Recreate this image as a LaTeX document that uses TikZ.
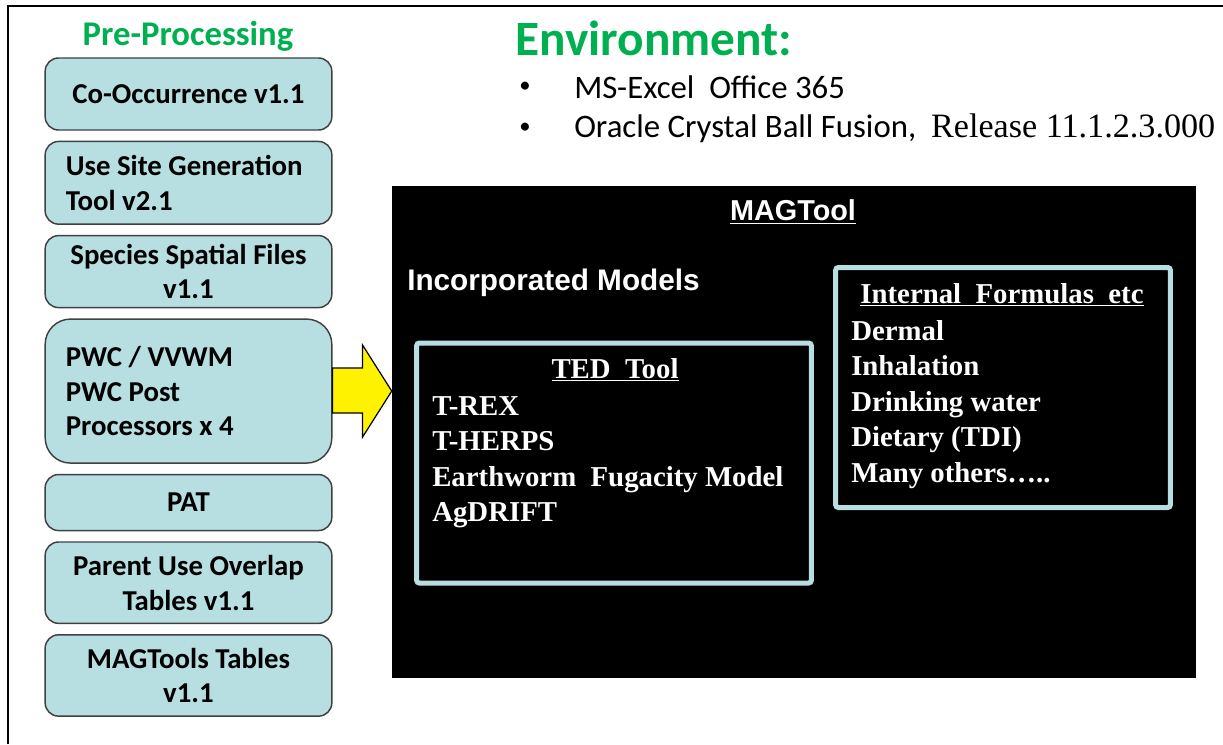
\documentclass[tikz,border=0pt]{standalone}
\usepackage{fontspec}
\setmainfont{Liberation Serif}
\newfontfamily\calfont{Carlito}
\newfontfamily\arialfont{Liberation Sans}
\usetikzlibrary{positioning, calc}
\definecolor{ppblue}{RGB}{183,222,225}
\definecolor{ppgreen}{RGB}{0,176,80}

\begin{document}
\begin{tikzpicture}[
  x=0.75pt, y=-0.75pt,
  node distance=7.5pt,
  ppbox/.style={draw=black!75, line width=1.1pt, fill=ppblue, rounded corners=10pt, minimum width=215pt, minimum height=54pt, align=center, inner sep=2pt, font=\calfont\bfseries\fontsize{21.6}{26}\selectfont},
  ppleft/.style={ppbox, align=flush left, text width=184pt},
  modbox/.style={draw=ppblue, line width=3.75pt, rounded corners=2pt, minimum width=296pt, minimum height=180pt},
  modtext/.style={text=white, inner sep=0pt, align=left, font=\bfseries\fontsize{21.6}{26.6}\selectfont},
  sanstext/.style={text=white, inner sep=0pt, font=\arialfont\bfseries\fontsize{21.6}{26}\selectfont},
  envtext/.style={inner sep=0pt, anchor=west, font=\calfont\fontsize{24.6}{28}\selectfont},
  yarrow/.style={draw=black, line width=0.9pt, fill=yellow, line join=miter}
]
\useasboundingbox (0,0) rectangle (1223,744);
\draw[line width=1.5pt] (8,744) -- (8,6) -- (1223,6);

% pre-processing column
\node[text=ppgreen, inner sep=0pt, font=\calfont\bfseries\fontsize{26}{30}\selectfont] (pretitle) at (188,36) {Pre-Processing};
\node[ppbox] (cooc) at (188.5,94) {Co-Occurrence v1.1};
\node[ppleft, minimum height=62pt, below=of cooc] (usesite) {Use Site Generation\\Tool v2.1};
\node[ppbox, below=of usesite] (species) {Species Spatial Files\\v1.1};
\node[ppleft, minimum height=108pt, rounded corners=19pt, below=of species] (pwc) {PWC / VVWM\\PWC Post\\Processors x 4};
\node[ppbox, minimum height=42pt, below=of pwc] (pat) {PAT};
\node[ppbox, minimum height=61pt, below=of pat] (parent) {Parent Use Overlap\\Tables v1.1};
\node[ppbox, minimum height=61pt, below=of parent] (magtab) {MAGTools Tables\\v1.1};

% environment
\node[text=ppgreen, inner sep=0pt, anchor=west, font=\calfont\bfseries\fontsize{37}{40}\selectfont] (envtitle) at (515,38) {Environment:};
\node[envtext, font=\calfont\fontsize{17}{20}\selectfont] (bulone) at (519,87) {•};
\node[envtext] (excel) at (574,87) {MS-Excel\ \ Office 365};
\node[envtext, font=\calfont\fontsize{17}{20}\selectfont] (bultwo) at (519,128) {•};
\node[envtext] (oracle) at (574,128) {Oracle Crystal Ball Fusion,\ \ {\rmfamily\fontsize{25.6}{28}\selectfont Release 11.1.2.3.000}};

% MAGTool
\node[fill=black, inner sep=0pt, minimum width=603pt, minimum height=369pt] (magtool) at (794,432) {};
\node[sanstext] (magtitle) at (793,212) {\underline{MAGTool}};
\node[sanstext, anchor=west, font=\arialfont\bfseries\fontsize{22.3}{26}\selectfont] (incmod) at (407,283) {Incorporated Models};

\node[modbox] (ted) at (614,463) {};
\node[modtext] (tedtitle) at (615,370) {\underline{TED\ \ Tool}};
\node[modtext, anchor=north west] (tedlist) at (432,396) {T-REX\\T-HERPS\\Earthworm\ \ Fugacity Model\\AgDRIFT};

\node[modbox, minimum width=251pt] (intbox) at (1003,387.5) {};
\node[modtext] (inttitle) at (1002,295) {\underline{Internal\ \ Formulas\ \ etc}};
\node[modtext, anchor=north west] (intlist) at (851,320) {Dermal\\Inhalation\\Drinking water\\Dietary (TDI)\\Many others…..};

\draw[yarrow] ($(pwc.east)+(0,-23)$) -- ($(pwc.east)+(30,-23)$) -- ($(pwc.east)+(30,-46)$)
  -- (magtool.west |- pwc.east) -- ($(pwc.east)+(30,46)$) -- ($(pwc.east)+(30,22)$) -- ($(pwc.east)+(0,22)$) -- cycle;
\end{tikzpicture}
\end{document}
